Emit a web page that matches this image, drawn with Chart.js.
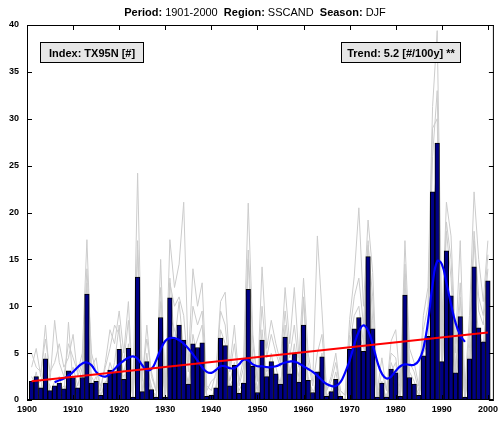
<!DOCTYPE html>
<html><head><meta charset="utf-8">
<script src="https://cdn.jsdelivr.net/npm/chart.js@4.4.0/dist/chart.umd.min.js"></script>
<style>html,body{margin:0;padding:0;background:#fff;}</style>
</head><body>
<canvas id="c" width="502" height="425"></canvas>
<script>
// ---- data ----
const years = [1901,1902,1903,1904,1905,1906,1907,1908,1909,1910,
 1911,1912,1913,1914,1915,1916,1917,1918,1919,1920,
 1921,1922,1923,1924,1925,1926,1927,1928,1929,1930,
 1931,1932,1933,1934,1935,1936,1937,1938,1939,1940,
 1941,1942,1943,1944,1945,1946,1947,1948,1949,1950,
 1951,1952,1953,1954,1955,1956,1957,1958,1959,1960,
 1961,1962,1963,1964,1965,1966,1967,1968,1969,1970,
 1971,1972,1973,1974,1975,1976,1977,1978,1979,1980,
 1981,1982,1983,1984,1985,1986,1987,1988,1989,1990,
 1991,1992,1993,1994,1995,1996,1997,1998,1999,2000];
const indexValues = [2.0,2.5,1.3,4.4,1.0,1.5,1.8,1.2,3.1,2.4,
 1.3,2.4,11.3,1.8,2.0,0.5,1.8,3.2,3.0,5.4,
 2.2,5.5,0.3,13.1,0.9,4.1,1.1,0.3,8.8,0.3,
 10.9,6.5,8.0,6.4,1.7,6.0,5.6,6.1,0.4,0.5,
 1.3,6.6,5.8,1.5,3.7,0.7,1.8,11.8,3.6,0.8,
 6.4,2.5,4.1,2.8,1.7,6.7,2.8,4.9,1.9,8.0,
 2.1,0.8,3.0,4.6,0.4,0.9,2.2,0.4,0.1,5.4,
 7.6,8.8,5.2,15.3,7.6,0.3,1.8,0.3,3.3,2.9,
 0.4,11.2,2.4,1.7,0.5,4.7,6.8,22.2,27.4,4.1,
 15.9,11.1,2.9,8.9,0.3,4.4,14.2,7.7,6.2,12.7];
const stationA = [3.5,5.5,2.5,8.0,2.0,8.5,4.0,2.5,6.0,4.5,
 3.0,5.0,17.1,3.5,4.5,1.0,4.0,7.5,6.0,9.5,
 5.0,10.5,1.0,24.2,2.0,8.0,2.5,1.0,15.0,1.0,
 17.1,12.0,14.5,21.1,4.0,14.0,10.0,12.5,1.5,1.0,
 3.0,10.5,11.5,3.5,8.0,2.0,4.5,21.0,7.0,2.0,
 14.2,5.5,8.5,6.0,4.0,12.0,6.0,12.0,4.5,13.0,
 5.0,2.0,17.5,9.5,1.0,2.5,5.0,1.0,0.5,8.6,
 13.2,20.5,10.0,19.2,13.6,1.0,4.5,1.0,6.3,7.5,
 1.5,17.0,5.5,4.0,1.5,9.0,12.0,31.3,39.4,8.0,
 21.1,17.5,6.0,17.0,1.0,9.0,22.2,15.0,10.5,17.0];
const stationB = [2.5,1.5,2.0,3.5,0.5,2.0,2.5,0.5,8.3,1.5,
 0.5,2.0,12.5,1.0,1.0,0.0,0.5,2.0,4.0,8.0,
 1.0,6.0,0.0,16.0,0.5,5.0,0.5,0.0,10.5,0.0,
 13.0,6.0,10.5,5.0,1.0,5.0,6.5,8.0,0.0,0.5,
 0.5,7.5,6.0,0.5,3.0,0.0,1.0,15.0,3.0,0.0,
 7.5,2.0,5.0,2.0,1.0,8.0,2.5,6.0,1.5,10.7,
 1.5,0.5,2.0,5.0,0.0,0.5,1.5,0.0,0.0,6.0,
 9.0,10.0,6.0,17.0,8.5,0.0,2.0,0.0,3.0,4.0,
 0.0,13.0,2.0,1.0,0.0,6.0,8.0,26.0,33.0,5.0,
 18.0,13.0,3.0,11.0,0.0,5.5,17.0,9.5,8.0,14.0];
const stationC = [1.0,3.0,0.5,2.5,1.5,0.5,1.0,1.5,1.0,2.5,
 1.0,1.5,8.0,2.5,1.5,0.5,2.0,2.0,1.5,3.0,
 2.5,3.5,0.5,8.5,1.0,2.5,1.0,0.5,5.5,0.5,
 7.0,5.0,4.5,3.0,2.0,4.0,3.5,3.0,0.5,0.0,
 1.5,4.5,4.0,1.5,2.5,1.0,2.0,8.0,2.5,1.0,
 4.0,1.5,2.5,2.5,2.0,4.5,2.0,2.5,1.0,5.0,
 2.0,1.0,1.0,3.0,0.5,0.5,2.0,0.5,0.0,3.5,
 5.0,5.5,3.0,11.0,5.0,0.5,1.0,0.5,2.0,1.5,
 0.5,7.5,1.5,1.5,0.5,3.0,4.5,16.0,20.0,3.0,
 11.0,7.0,2.0,6.0,0.5,2.5,10.0,5.0,4.0,8.5];
const stationD = [2.0,2.0,1.0,5.0,0.5,1.0,1.5,1.0,2.0,3.5,
 1.5,3.5,10.0,1.5,2.5,0.5,1.5,4.0,2.5,4.5,
 3.0,5.0,0.0,11.0,1.0,3.5,1.5,0.0,7.0,0.0,
 9.0,7.5,6.0,4.5,1.5,7.0,4.5,5.5,0.5,0.5,
 1.0,5.5,5.0,2.0,4.0,0.5,1.5,10.0,4.5,1.0,
 5.5,3.0,4.0,3.5,1.5,6.0,3.0,4.5,2.5,7.0,
 2.5,0.5,2.5,4.0,0.5,1.0,3.0,0.5,0.0,5.0,
 6.5,7.0,5.5,14.0,6.5,0.5,1.5,0.0,4.0,2.5,
 0.5,10.0,3.0,2.0,0.5,5.0,6.0,20.0,25.0,4.5,
 14.0,10.0,3.5,8.0,0.5,4.0,12.0,7.0,6.0,11.5];
const stationE = [5.0,3.5,3.0,6.5,3.0,4.0,6.0,3.5,4.5,7.0,
 2.5,4.0,14.0,5.0,3.0,1.5,3.5,5.5,8.0,7.0,
 4.0,8.5,1.0,17.0,2.5,6.5,3.0,1.0,12.0,1.0,
 12.5,10.0,11.0,9.0,3.0,10.0,8.0,9.5,1.0,2.0,
 2.5,9.5,8.0,3.0,6.0,1.5,3.5,16.0,6.0,2.0,
 10.0,4.5,7.0,5.0,3.5,9.5,4.5,8.0,3.5,11.0,
 4.0,1.5,5.0,7.0,1.0,2.0,4.0,1.0,0.5,7.0,
 11.0,13.0,8.0,16.5,11.0,0.5,3.0,1.0,5.0,4.5,
 1.0,14.5,4.0,3.0,1.0,7.5,10.0,29.0,30.0,6.5,
 19.0,15.0,5.0,12.5,1.0,7.0,18.0,11.0,9.0,15.5];
const stationF = [0.5,1.0,0.0,3.0,0.0,1.5,0.5,0.5,2.5,1.0,
 0.5,1.0,9.0,0.5,1.5,0.0,1.0,2.5,2.0,4.0,
 1.5,4.5,0.0,10.0,0.0,3.0,0.5,0.0,6.5,0.0,
 8.0,5.5,6.5,4.0,1.0,4.5,4.5,5.0,0.0,0.0,
 0.5,5.0,4.5,0.5,2.5,0.0,1.0,9.0,2.5,0.0,
 5.0,2.0,3.0,1.5,1.0,5.5,2.0,3.5,1.0,6.5,
 1.0,0.0,1.5,3.5,0.0,0.0,1.0,0.0,0.0,4.0,
 6.0,7.0,4.0,13.0,6.0,0.0,1.0,0.0,2.5,2.0,
 0.0,9.0,1.5,1.0,0.0,3.5,5.5,18.0,24.0,3.0,
 12.5,9.0,2.0,7.0,0.0,3.5,11.0,6.0,5.0,10.0];
const smoothYears = years.slice(5, 95);
const smoothValues = [1.9,2.1,2.3,2.6,3.0,3.5,3.9,4.0,3.7,3.0,
 2.6,2.5,2.8,3.3,3.8,4.2,4.5,4.65,4.4,3.7,
 3.2,3.3,4.2,5.4,6.3,6.6,6.6,6.4,6.0,5.5,
 4.9,4.2,3.5,3.0,2.9,3.2,3.6,3.6,3.4,3.4,
 3.8,4.3,4.2,3.8,3.6,3.6,3.5,3.5,3.6,3.8,
 4.0,4.1,4.1,3.9,3.6,3.3,3.0,2.6,2.1,1.7,
 1.5,1.5,1.9,2.9,4.2,5.9,7.3,7.95,7.4,5.9,
 4.1,2.8,2.3,2.5,3.1,3.6,3.8,3.75,3.75,4.2,
 5.5,8.3,12.3,14.8,14.5,12.5,10.2,8.2,6.9,6.2];
const trendYears = [1901, 2000];
const trendValues = [2.0, 7.2];
const xTickValues = [1900,1910,1920,1930,1940,1950,1960,1970,1980,1990,2000];
const yTickValues = [0,5,10,15,20,25,30,35,40];
const titleParts = [['Period: ', true], ['1901-2000', false], ['  ', false], ['Region: ', true], ['SSCAND', false], ['  ', false], ['Season: ', true], ['DJF', false]];
const indexLabel = 'Index: TX95N [#]';
const trendLabel = 'Trend: 5.2 [#/100y] **';

// ---- build ----
const pts = (xs, ys) => xs.map((x, i) => ({x: x, y: ys[i]}));
const FONT = "'Liberation Sans', Arial, Helvetica, sans-serif";
const greyLine = (vals) => ({type: 'line', data: pts(years, vals), borderColor: '#cccccc', borderWidth: 1, pointRadius: 0, tension: 0, order: 5});

const decor = {
  id: 'decor',
  afterDraw(chart) {
    const {ctx, chartArea: a, scales: {x, y}} = chart;
    ctx.save();
    // frame
    ctx.strokeStyle = '#000'; ctx.lineWidth = 1;
    ctx.strokeRect(a.left + 0.5, a.top + 0.5, a.right - a.left - 1, a.bottom - a.top - 1);
    ctx.beginPath();
    xTickValues.forEach(v => {
      const px = Math.round(x.getPixelForValue(v)) + 0.5;
      ctx.moveTo(px, a.bottom); ctx.lineTo(px, a.bottom - 5);
      ctx.moveTo(px, a.top); ctx.lineTo(px, a.top + 5);
    });
    yTickValues.forEach(v => {
      const py = Math.round(y.getPixelForValue(v)) + 0.5;
      ctx.moveTo(a.left, py); ctx.lineTo(a.left + 5, py);
      ctx.moveTo(a.right, py); ctx.lineTo(a.right - 5, py);
    });
    ctx.stroke();
    // title
    ctx.fillStyle = '#000'; ctx.textBaseline = 'alphabetic'; ctx.textAlign = 'left';
    const fnt = b => (b ? 'bold ' : '') + '11px ' + FONT;
    let total = 0;
    titleParts.forEach(([t, b]) => { ctx.font = fnt(b); total += ctx.measureText(t).width; });
    let cx = 255 - total / 2;
    titleParts.forEach(([t, b]) => { ctx.font = fnt(b); ctx.fillText(t, cx, 15.5); cx += ctx.measureText(t).width; });
    // label boxes
    const box = (x0, x1, text) => {
      ctx.fillStyle = '#e6e6e6';
      ctx.fillRect(x0, 42.5, x1 - x0, 20);
      ctx.strokeStyle = '#000'; ctx.lineWidth = 1;
      ctx.strokeRect(x0 + 0.5, 42.5, x1 - x0, 20);
      ctx.fillStyle = '#000';
      ctx.font = 'bold 11px ' + FONT;
      ctx.textAlign = 'center';
      ctx.fillText(text, (x0 + x1) / 2 + 0.5, 56.5);
    };
    box(40, 143, indexLabel);
    box(341, 460, trendLabel);
    ctx.restore();
  }
};

new Chart(document.getElementById('c'), {
  type: 'bar',
  data: {
    datasets: [
      {type: 'line', data: pts(trendYears, trendValues), borderColor: '#ff0000', borderWidth: 2.2, pointRadius: 0, order: 0},
      {type: 'line', data: pts(smoothYears, smoothValues), borderColor: '#0000ff', borderWidth: 2.2, pointRadius: 0, tension: 0.45, order: 1},
      {type: 'bar', data: pts(years, indexValues), backgroundColor: '#000087', borderColor: '#000000', borderWidth: 1, borderSkipped: false, barPercentage: 1, categoryPercentage: 1, order: 2},
      greyLine(stationA), greyLine(stationB), greyLine(stationC), greyLine(stationD), greyLine(stationE), greyLine(stationF)
    ]
  },
  options: {
    responsive: false, devicePixelRatio: 1, animation: false,
    layout: {padding: {top: 25, right: 7, left: 0, bottom: 0}},
    plugins: {legend: {display: false}, tooltip: {enabled: false}, title: {display: false}},
    scales: {
      x: {
        type: 'linear', min: 1900, max: 2001.3, offset: false,
        grid: {display: false, drawTicks: false}, border: {display: false},
        afterBuildTicks: s => { s.ticks = xTickValues.map(v => ({value: v})); },
        afterFit: s => { s.height = 25; },
        ticks: {padding: 4, maxRotation: 0, autoSkip: false, color: '#000', font: {family: FONT, size: 9, weight: 'bold'}, callback: v => String(v)}
      },
      y: {
        min: 0, max: 40,
        grid: {display: false, drawTicks: false}, border: {display: false},
        afterBuildTicks: s => { s.ticks = yTickValues.map(v => ({value: v})); },
        afterFit: s => { s.width = 27; },
        ticks: {padding: 8, color: '#000', font: {family: FONT, size: 9, weight: 'bold'}}
      }
    }
  },
  plugins: [decor]
});
</script>
</body></html>
